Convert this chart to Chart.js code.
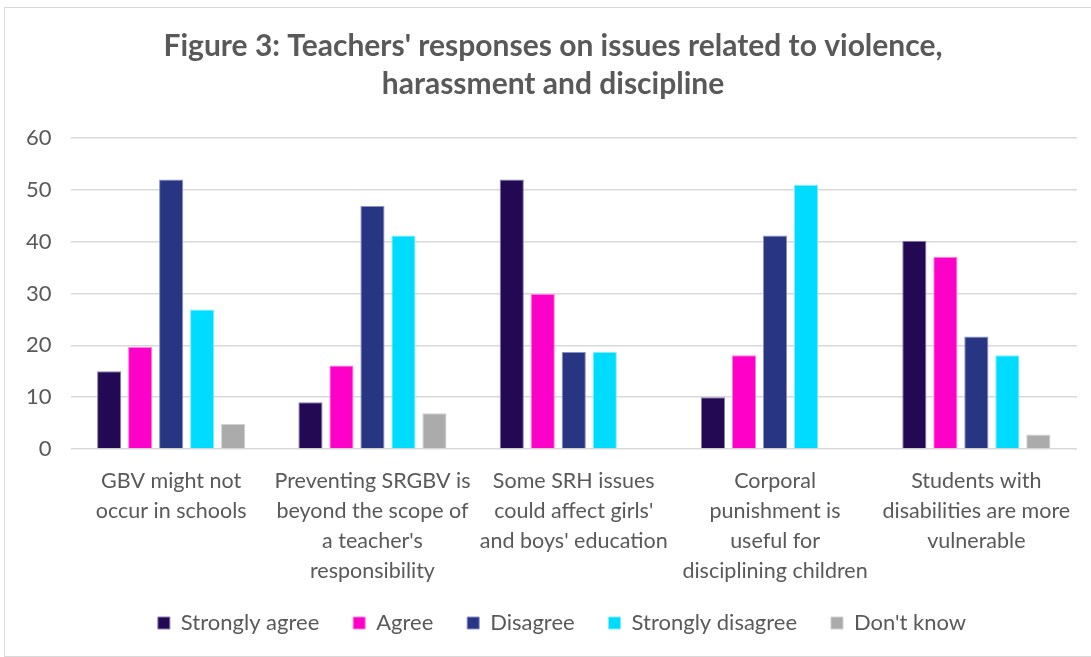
<!DOCTYPE html>
<html>
<head>
<meta charset="utf-8">
<script src="https://cdn.jsdelivr.net/npm/chart.js@4/dist/chart.umd.min.js"></script>
<style>
  html, body { margin: 0; padding: 0; background: #ffffff; }
  #wrap { position: absolute; left: 4px; top: 7px; width: 1090px; height: 650px; border: 1px solid #d9d9d9; box-sizing: border-box; background:#fff; }
  canvas { display: block; }
</style>
</head>
<body>
<div id="wrap"><canvas id="c"></canvas></div>
<script>
const categories = [
  ["GBV might not", "occur in schools"],
  ["Preventing SRGBV is", "beyond the scope of", "a teacher's", "responsibility"],
  ["Some SRH issues", "could affect girls'", "and boys' education"],
  ["Corporal", "punishment is", "useful for", "disciplining children"],
  ["Students with", "disabilities are more", "vulnerable"]
];
const seriesNames = ["Strongly agree", "Agree", "Disagree", "Strongly disagree", "Don't know"];
const stronglyAgree = [15, 9, 52, 10, 40.2];
const agree = [19.7, 16.1, 29.9, 18.1, 37.1];
const disagree = [52, 46.9, 18.7, 41.2, 21.7];
const stronglyDisagree = [26.9, 41.2, 18.7, 51, 18.1];
const dontKnow = [4.8, 6.9, null, null, 2.8];
const yTicks = [0, 10, 20, 30, 40, 50, 60];

const colors = ["#230954", "#ff00c8", "#283583", "#00dcff", "#ababab"];
const borders = ["#8a7fb0", "#ff80e0", "#8a92c4", "#80eeff", "#d0d0d0"];
const values = [stronglyAgree, agree, disagree, stronglyDisagree, dontKnow];

const FONT = "Lato, 'Liberation Sans', sans-serif";
const GREY = "#595959";

// The original chart frame is wider than the visible crop: title and legend sit right of the canvas centre.
const shiftBlocks = {
  id: 'shiftBlocks',
  afterLayout(chart) {
    const t = chart.titleBlock, l = chart.legend;
    if (t) { t.left += 11; t.right += 11; }
    if (l) { l.left += 20; l.right += 20; }
  }
};

new Chart(document.getElementById('c'), {
  type: 'bar',
  data: {
    labels: categories,
    datasets: seriesNames.map((n, i) => ({
      label: n,
      data: values[i],
      backgroundColor: colors[i],
      borderColor: borders[i],
      borderWidth: 1,
      categoryPercentage: 0.77,
      barPercentage: 0.78
    }))
  },
  plugins: [shiftBlocks],
  options: {
    responsive: true,
    maintainAspectRatio: false,
    animation: false,
    layout: { padding: { left: 2, right: 16, top: 12, bottom: 12 } },
    plugins: {
      title: {
        display: true,
        text: ["Figure 3: Teachers' responses on issues related to violence,", "harassment and discipline"],
        color: GREY,
        font: { family: FONT, size: 30, weight: 'bold', lineHeight: 38 / 30 },
        padding: { top: 7, bottom: 35 }
      },
      legend: {
        position: 'bottom',
        labels: {
          color: GREY,
          font: { family: FONT, size: 22 },
          boxWidth: 12,
          boxHeight: 12,
          padding: 17,
          generateLabels: (chart) => {
            const items = Chart.defaults.plugins.legend.labels.generateLabels(chart);
            items.forEach((it, i) => { if (i < items.length - 1) it.text = it.text + '   '; });
            return items;
          }
        }
      },
      tooltip: { enabled: false }
    },
    scales: {
      x: {
        grid: { display: false },
        border: { display: false },
        ticks: {
          color: GREY,
          font: { family: FONT, size: 21.5, lineHeight: 30 / 21.5 },
          maxRotation: 0,
          autoSkip: false,
          padding: 9
        }
      },
      y: {
        min: 0,
        max: 60,
        afterBuildTicks: (axis) => { axis.ticks = yTicks.map(v => ({ value: v })); },
        grid: { color: "#d9d9d9", lineWidth: 1.5, drawTicks: false },
        border: { display: false },
        ticks: {
          color: GREY,
          font: { family: FONT, size: 22 },
          padding: 19
        }
      }
    }
  }
});
</script>
</body>
</html>
